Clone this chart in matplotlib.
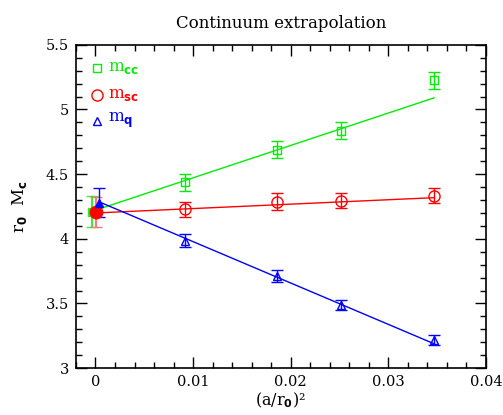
import matplotlib
matplotlib.use("Agg")
import matplotlib.pyplot as plt
from matplotlib.ticker import MultipleLocator, FuncFormatter

plt.rcParams['font.family'] = ['DejaVu Serif']

# data
a2 = [0.0092, 0.0186, 0.0252, 0.0347]
m_cc = [4.437, 4.69, 4.835, 5.225]
m_cc_err = [0.066, 0.067, 0.066, 0.065]
m_sc = [4.228, 4.287, 4.295, 4.331]
m_sc_err = [0.058, 0.064, 0.058, 0.058]
m_q = [3.985, 3.714, 3.488, 3.217]
m_q_err = [0.052, 0.048, 0.042, 0.042]

# continuum extrapolated values
x0_cc, y0_cc, e0_cc = -0.0004, 4.211, 0.122
x0_sc, y0_sc, e0_sc = 0.0001, 4.205, 0.117
x0_q, y0_q, e0_q = 0.0004, 4.280, 0.110

# fit lines (start, end)
fit_x = [0.0, 0.0347]
fit_cc = [4.211, 5.090]
fit_sc = [4.200, 4.318]
fit_q = [4.285, 3.188]

GREEN = '#00ee00'
RED = '#ff0000'
BLUE = '#0000ff'

fig = plt.figure(figsize=(5.03, 4.15), dpi=100)
ax = fig.add_axes([0.151, 0.113, 0.815, 0.779])

ax.plot([x0_cc, fit_x[1]], fit_cc, color=GREEN, lw=1)
ax.plot([x0_sc, fit_x[1]], fit_sc, color=RED, lw=1)
ax.plot([x0_q, fit_x[1]], fit_q, color=BLUE, lw=1)

ax.errorbar(a2, m_cc, yerr=m_cc_err, fmt='s', mfc='none', mec=GREEN, ecolor=GREEN,
            ms=6, mew=1, capsize=4, elinewidth=1)
ax.errorbar(a2, m_sc, yerr=m_sc_err, fmt='o', mfc='none', mec=RED, ecolor=RED,
            ms=8, mew=1, capsize=4, elinewidth=1)
ax.errorbar(a2, m_q, yerr=m_q_err, fmt='^', mfc='none', mec=BLUE, ecolor=BLUE,
            ms=6, mew=1, capsize=4, elinewidth=1)

ax.errorbar([x0_cc], [y0_cc], yerr=[e0_cc], fmt='s', color=GREEN, ms=6,
            capsize=4, elinewidth=1.5, alpha=0.8)
ax.errorbar([x0_sc], [y0_sc], yerr=[e0_sc], fmt='o', color=RED, ms=9,
            capsize=4, elinewidth=1.5, ecolor='#ff7777')
ax.errorbar([x0_q], [y0_q], yerr=[e0_q], fmt='^', color=BLUE, ms=6,
            capsize=4, elinewidth=1)

ax.set_xlim(-0.002, 0.04)
ax.set_ylim(3, 5.5)
ax.xaxis.set_major_locator(MultipleLocator(0.01))
ax.xaxis.set_minor_locator(MultipleLocator(0.002))
ax.yaxis.set_major_locator(MultipleLocator(0.5))
ax.yaxis.set_minor_locator(MultipleLocator(0.1))
ax.xaxis.set_major_formatter(FuncFormatter(lambda v, p: '0' if abs(v) < 1e-9 else f'{v:g}'))
ax.yaxis.set_major_formatter(FuncFormatter(lambda v, p: f'{v:g}'))
ax.tick_params(which='both', direction='in', top=True, right=True, labelsize=10.5, width=1)
ax.tick_params(which='major', length=8, pad=5)
ax.tick_params(which='minor', length=4)
for s in ax.spines.values():
    s.set_linewidth(1.2)

# legend
leg = [('s', GREEN, 'm$_{\\mathbf{cc}}$', 0.929, 6),
       ('o', RED, 'm$_{\\mathbf{sc}}$', 0.845, 8),
       ('^', BLUE, 'm$_{\\mathbf{q}}$', 0.765, 6)]
for mk, c, lab, yy, ms in leg:
    ax.plot([0.051], [yy], marker=mk, mfc='none', mec=c, ms=ms, mew=1,
            transform=ax.transAxes, ls='none')
    ax.text(0.078, yy, lab, color=c, fontsize=12, va='center', ha='left',
            transform=ax.transAxes)

ax.set_xlabel('(a/r$_{\\mathbf{0}}$)²', fontsize=11.5, labelpad=1)
ax.set_ylabel('r$_{\\mathbf{0}}$  M$_{\\mathbf{c}}$', fontsize=12, labelpad=12)
ax.set_title('Continuum extrapolation', fontsize=12, pad=12)

fig.savefig('out.png', dpi=100)
